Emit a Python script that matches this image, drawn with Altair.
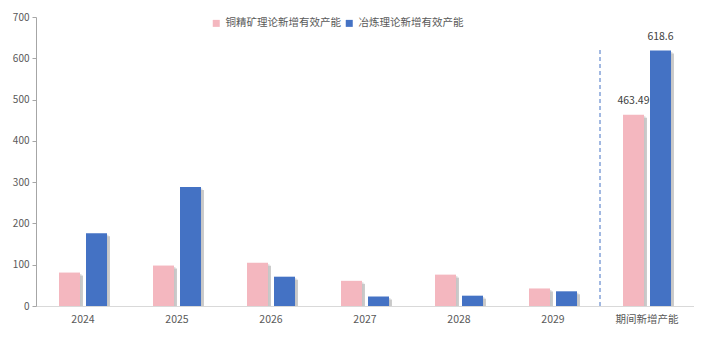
import altair as alt
import pandas as pd

categories = ["2024", "2025", "2026", "2027", "2028", "2029", "期间新增产能"]
series_names = ["铜精矿理论新增有效产能", "冶炼理论新增有效产能"]
concentrate = [81, 98, 105, 61, 76, 42.49, 463.49]
smelting = [176, 288, 71, 23, 25, 35.6, 618.6]
label_text_c = ["", "", "", "", "", "", "463.49"]
label_text_s = ["", "", "", "", "", "", "618.6"]

colors = ["#F4B7BF", "#4472C4"]
FONT = "Noto Sans CJK SC"

rows = []
for i, c in enumerate(categories):
    rows.append({"cat": c, "series": series_names[0], "value": concentrate[i], "label": label_text_c[i]})
    rows.append({"cat": c, "series": series_names[1], "value": smelting[i], "label": label_text_s[i]})
df = pd.DataFrame(rows)

W, H = 658, 289
BW = 21
OFF = 13.5

xenc = alt.X("cat:N", sort=categories, scale=alt.Scale(domain=categories, paddingInner=0, paddingOuter=0),
             axis=alt.Axis(title=None, labelAngle=0, ticks=False, domainColor="#d9d9d9",
                           labelColor="#595959", labelFontSize=10.5, labelPadding=8, labelFont=FONT))
yenc = alt.Y("value:Q", scale=alt.Scale(domain=[0, 700], nice=False),
             axis=alt.Axis(title=None, values=[0, 100, 200, 300, 400, 500, 600, 700], grid=False,
                           domainColor="#a6a6a6", tickColor="#a6a6a6", tickSize=4,
                           labelColor="#595959", labelFontSize=10, labelPadding=3, labelFont=FONT))
color = alt.Color("series:N", scale=alt.Scale(domain=series_names, range=colors),
                  legend=alt.Legend(title=None, orient="none", legendX=175, legendY=1,
                                    direction="horizontal", symbolType="square", symbolSize=49,
                                    symbolStrokeWidth=0, labelFontSize=10.5, labelColor="#595959",
                                    labelFont=FONT, columnPadding=3, labelOffset=4))

base = alt.Chart(df)
layers = []
for idx, off in enumerate([-OFF, OFF]):
    s = series_names[idx]
    sub = base.transform_filter(alt.datum.series == s)
    layers.append(sub.mark_bar(width=BW, xOffset=off + 3, yOffset=3, color="#9a9a9a", opacity=0.5, clip=True)
                  .encode(x=xenc, y=yenc))
    layers.append(sub.mark_bar(width=BW, xOffset=off + 1.5, yOffset=1.5, color="#bfbfbf", opacity=0.5, clip=True)
                  .encode(x=xenc, y=yenc))
for idx, off in enumerate([-OFF, OFF]):
    s = series_names[idx]
    sub = base.transform_filter(alt.datum.series == s)
    layers.append(sub.mark_bar(width=BW, xOffset=off).encode(x=xenc, y=yenc, color=color))
    layers.append(sub.mark_text(xOffset=off, dy=-14, fontSize=10.5, color="#404040", font=FONT)
                  .encode(x=xenc, y=yenc, text="label:N"))

rule = alt.Chart(pd.DataFrame({"cat": [categories[-1]], "value": [0], "top": [625]})).mark_rule(
    color="#4472C4", strokeDash=[4, 3], strokeWidth=1
).encode(x=alt.X("cat:N", sort=categories, bandPosition=0), y=alt.Y("value:Q"), y2="top:Q")

chart = alt.layer(*layers, rule).properties(
    width=W, height=H,
    autosize=alt.AutoSizeParams(type="none"),
    padding={"left": 28, "top": 9, "right": 0, "bottom": 40},
).configure(font=FONT).configure_view(stroke="transparent", strokeWidth=0)

chart.save("out.html", embed_options={"renderer": "svg", "actions": False})
